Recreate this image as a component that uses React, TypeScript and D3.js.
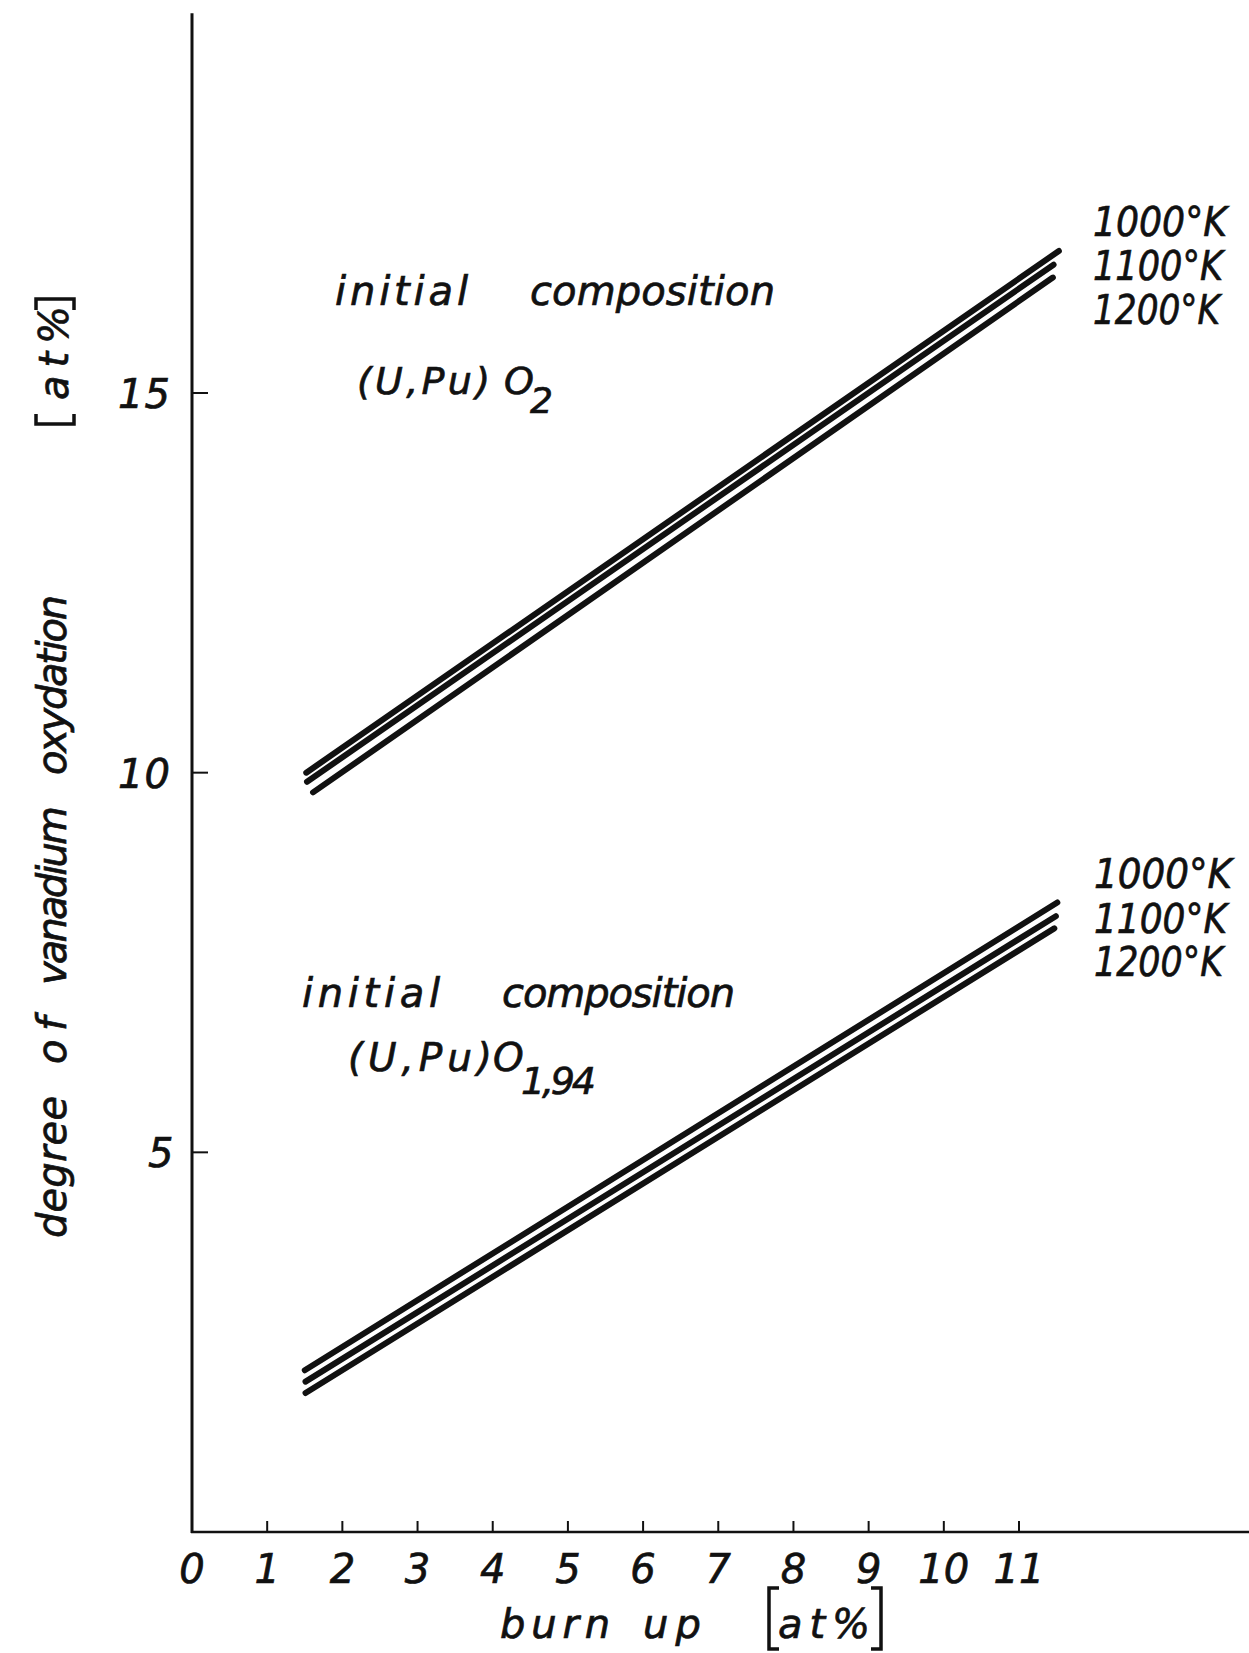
import React from "react";
import * as d3 from "d3";

const width = 1249;
const height = 1653;

const burnUpTicks = [1, 2, 3, 4, 5, 6, 7, 8, 9, 10, 11];
const burnUpLabels = ["0", "1", "2", "3", "4", "5", "6", "7", "8", "9", "10", "11"];
const oxidationTicks = [5, 10, 15];
const temperatures = ["1000°K", "1100°K", "1200°K"];

// each line: [start, end] of burn up and of oxidation degree
const o2BurnUp = [
  [1.52, 11.53],
  [1.53, 11.46],
  [1.61, 11.45],
];
const o2Oxidation = [
  [10.0, 16.87],
  [9.88, 16.69],
  [9.74, 16.52],
];
const o194BurnUp = [
  [1.5, 11.51],
  [1.51, 11.49],
  [1.51, 11.47],
];
const o194Oxidation = [
  [2.13, 8.29],
  [1.98, 8.11],
  [1.83, 7.95],
];

const ink = "#111";
const font = "'DejaVu Sans', sans-serif";

const x = d3.scaleLinear().domain([0, 11]).range([192, 1019]);
const y = d3.scaleLinear().domain([0, 15]).range([1532, 393]);

const line = d3
  .line<[number, number]>()
  .x((d) => x(d[0]))
  .y((d) => y(d[1]));

function Word({ x, y, len, size = 40, anchor = "start", squeeze = false, children }: any) {
  return (
    <text
      x={x}
      y={y}
      textLength={len}
      lengthAdjust={len ? (squeeze ? "spacingAndGlyphs" : "spacing") : undefined}
      fontSize={size}
      fontStyle="italic"
      fontFamily={font}
      fill={ink}
      stroke={ink}
      strokeWidth={0.7}
      textAnchor={anchor}
    >
      {children}
    </text>
  );
}

function Lines({ burnUp, oxidation }: { burnUp: number[][]; oxidation: number[][] }) {
  return (
    <g>
      {burnUp.map((b, i) => (
        <path
          key={i}
          d={line([
            [b[0], oxidation[i][0]],
            [b[1], oxidation[i][1]],
          ])!}
          fill="none"
          stroke={ink}
          strokeWidth={6}
          strokeLinecap="round"
        />
      ))}
    </g>
  );
}

export default function App() {
  const upperTemp = [
    { y: 236, len: 134 },
    { y: 280, len: 130 },
    { y: 324, len: 127 },
  ];
  const lowerTemp = [
    { y: 888, len: 138 },
    { y: 933, len: 133 },
    { y: 976, len: 129 },
  ];

  return (
    <svg
      width={width}
      height={height}
      style={{ position: "absolute", left: 0, top: 0, background: "#fff" }}
    >
      <rect width={width} height={height} fill="#fff" />

      {/* axes */}
      <line x1={x(0)} x2={x(0)} y1={y(20)} y2={y(0) + 1} stroke={ink} strokeWidth={3} />
      <line x1={x(0) - 1} x2={width} y1={y(0)} y2={y(0)} stroke={ink} strokeWidth={2.5} />

      {burnUpTicks.map((t) => (
        <line key={t} x1={x(t)} x2={x(t)} y1={y(0)} y2={y(0) - 11} stroke={ink} strokeWidth={2} />
      ))}
      {burnUpLabels.map((l, i) => (
        <Word key={l} x={x(i)} y={1583} anchor="middle">
          {l}
        </Word>
      ))}

      {oxidationTicks.map((t) => (
        <g key={t}>
          <line x1={x(0)} x2={x(0) + 16} y1={y(t)} y2={y(t)} stroke={ink} strokeWidth={2} />
          <Word
            x={t < 10 ? 148 : 118}
            y={y(t) + 15}
            len={t < 10 ? undefined : 52}
          >
            {String(t)}
          </Word>
        </g>
      ))}

      {/* x axis title */}
      <Word x={500} y={1638} len={110}>burn</Word>
      <Word x={643} y={1638} len={58}>up</Word>
      <Word x={778} y={1638} len={92}>at%</Word>
      <path d="M779,1588 H769 V1649 H779" fill="none" stroke={ink} strokeWidth={3.5} />
      <path d="M871,1588 H881 V1649 H871" fill="none" stroke={ink} strokeWidth={3.5} />

      {/* y axis title */}
      <g transform="translate(66,0) rotate(-90)">
        <Word x={-1238} y={0} len={142}>degree</Word>
        <Word x={-1064} y={0} len={47}>of</Word>
        <Word x={-985} y={0} len={179}>vanadium</Word>
        <Word x={-775} y={0} len={180}>oxydation</Word>
        <Word x={-400} y={2} len={94}>at%</Word>
      </g>
      <path d="M36,414 V424 H74 V414" fill="none" stroke={ink} strokeWidth={3.5} />
      <path d="M36,310 V299 H74 V310" fill="none" stroke={ink} strokeWidth={3.5} />

      {/* (U,Pu)O2 */}
      <Lines burnUp={o2BurnUp} oxidation={o2Oxidation} />
      <Word x={335} y={305} len={133}>initial</Word>
      <Word x={530} y={305} len={245}>composition</Word>
      <Word x={357} y={394} len={133} size={38}>(U,Pu)</Word>
      <Word x={504} y={394} size={38}>O</Word>
      <Word x={530} y={413} size={36}>2</Word>
      {temperatures.map((t, i) => (
        <Word key={t} x={1093} y={upperTemp[i].y} len={upperTemp[i].len} squeeze>
          {t}
        </Word>
      ))}

      {/* (U,Pu)O1,94 */}
      <Lines burnUp={o194BurnUp} oxidation={o194Oxidation} />
      <Word x={302} y={1007} len={138}>initial</Word>
      <Word x={502} y={1007} len={233}>composition</Word>
      <Word x={348} y={1071} len={144} size={39}>(U,Pu)</Word>
      <Word x={493} y={1071} size={39}>O</Word>
      <Word x={521} y={1094} len={75} size={38}>1,94</Word>
      {temperatures.map((t, i) => (
        <Word key={t} x={1094} y={lowerTemp[i].y} len={lowerTemp[i].len} squeeze>
          {t}
        </Word>
      ))}
    </svg>
  );
}
